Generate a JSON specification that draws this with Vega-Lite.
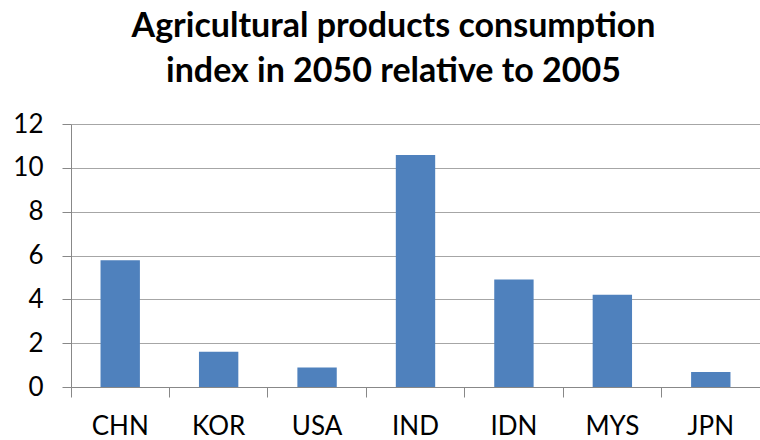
{
  "$schema": "https://vega.github.io/schema/vega-lite/v6.json",
  "width": 689,
  "height": 263,
  "autosize": {"type": "none"},
  "padding": {"left": 71, "top": 124, "right": 0, "bottom": 53},
  "background": "white",
  "title": {
    "text": ["Agricultural products consumption", "index in 2050 relative to 2005"],
    "font": "Lato",
    "fontSize": 34,
    "fontWeight": "bold",
    "color": "#000000",
    "lineHeight": 45,
    "anchor": "middle",
    "dx": -22,
    "offset": 22
  },
  "data": {
    "values": [
      {"country": "CHN", "index": 5.78},
      {"country": "KOR", "index": 1.61},
      {"country": "USA", "index": 0.89},
      {"country": "IND", "index": 10.58},
      {"country": "IDN", "index": 4.91},
      {"country": "MYS", "index": 4.21},
      {"country": "JPN", "index": 0.68}
    ]
  },
  "mark": {"type": "bar", "color": "#4F81BD", "width": {"band": 0.4}},
  "encoding": {
    "x": {
      "field": "country",
      "type": "nominal",
      "sort": null,
      "scale": {"paddingInner": 0, "paddingOuter": 0},
      "axis": {
        "title": null,
        "labelAngle": 0,
        "bandPosition": 0,
        "labelFont": "Lato",
        "labelFontSize": 26,
        "labelColor": "#000000",
        "labelPadding": 16,
        "tickSize": 10,
        "tickColor": "#888888",
        "domainColor": "#888888",
        "grid": false
      }
    },
    "y": {
      "field": "index",
      "type": "quantitative",
      "scale": {"domain": [0, 12], "nice": false},
      "axis": {
        "title": null,
        "values": [0, 2, 4, 6, 8, 10, 12],
        "labelFont": "Lato",
        "labelFontSize": 26,
        "labelColor": "#000000",
        "labelPadding": 19,
        "tickSize": 9,
        "tickColor": "#888888",
        "domainColor": "#888888",
        "gridColor": "#a6a6a6",
        "gridWidth": 1.2
      }
    }
  },
  "config": {"view": {"stroke": null}}
}
